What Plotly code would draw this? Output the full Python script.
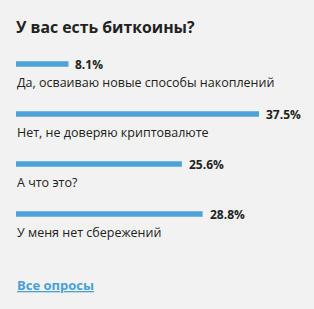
import plotly.graph_objects as go

title = "У вас есть биткоины?"
answers = [
    "Да, осваиваю новые способы накоплений",
    "Нет, не доверяю криптовалюте",
    "А что это?",
    "У меня нет сбережений",
]
shares = [8.1, 37.5, 25.6, 28.8]
pct_labels = ["8.1%", "37.5%", "25.6%", "28.8%"]
link_text = "Все опросы"

W, H = 314, 309
BG = "#f2f2f2"
BAR = "#4ba3d8"
TXT = "#222222"
FONT = "Open Sans"
ML, MT, MB = 16, 39, 70
PH = H - MT - MB


def py(p):
    return (H - MB - p) / PH


idx = list(range(len(answers)))

fig = go.Figure()
fig.add_trace(go.Bar(
    x=shares, y=idx, orientation="h",
    marker=dict(color=BAR, line=dict(width=0)),
    width=0.11, hoverinfo="skip",
))

for i, (v, lab, ans) in enumerate(zip(shares, pct_labels, answers)):
    fig.add_annotation(x=v, y=i, xref="x", yref="y", text=f"<b>{lab}</b>",
                       showarrow=False, xanchor="left", yanchor="middle",
                       xshift=5, font=dict(family=FONT, size=12, color=TXT))
    fig.add_annotation(x=0, y=i, xref="x", yref="y", text=ans,
                       showarrow=False, xanchor="left", yanchor="middle",
                       yshift=-18, xshift=-1, font=dict(family=FONT, size=12.5, color=TXT))

fig.add_annotation(x=0, y=py(27), xref="paper", yref="paper",
                   text=f"<b>{title}</b>", showarrow=False,
                   xanchor="left", yanchor="middle", xshift=-2,
                   font=dict(family=FONT, size=15.8, color=TXT))
fig.add_annotation(x=0, y=py(285), xref="paper", yref="paper",
                   text=f"<b><u>{link_text}</u></b>", showarrow=False,
                   xanchor="left", yanchor="middle", xshift=-1,
                   font=dict(family=FONT, size=13, color="#4a9fd5"))

fig.update_layout(
    width=W, height=H,
    margin=dict(l=ML, r=0, t=MT, b=MB),
    paper_bgcolor=BG, plot_bgcolor=BG,
    showlegend=False,
    xaxis=dict(range=[0, (W - ML) / 6.48], visible=False, fixedrange=True),
    yaxis=dict(range=[3.5, -0.5], visible=False, fixedrange=True),
)

fig.write_html("out.html", config={"displayModeBar": False})
